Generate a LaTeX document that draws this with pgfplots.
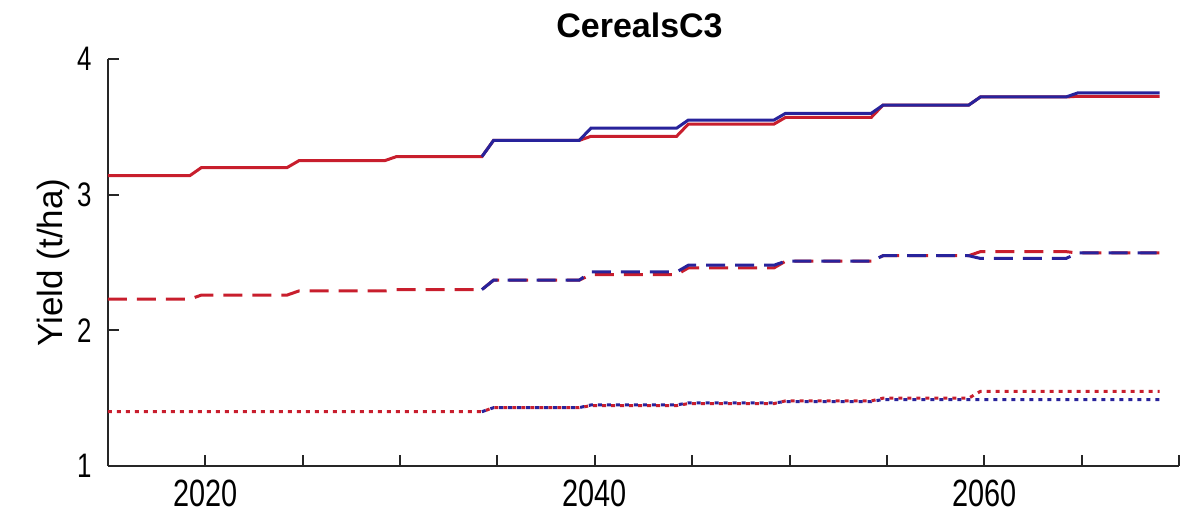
\documentclass[border=0pt]{standalone}
\usepackage{fontspec}
\setmainfont{Liberation Sans}
\newfontfamily\ticknarrow[FakeStretch=0.76]{Liberation Sans}
\usepackage{pgfplots}
\pgfplotsset{compat=1.18}
\definecolor{scenred}{RGB}{200,30,45}
\definecolor{scenblue}{RGB}{40,35,155}

\begin{document}
\begin{tikzpicture}
\useasboundingbox (-54pt,-26.5pt) rectangle (541.5pt,233pt);
\begin{axis}[
  at={(0,0)}, anchor=south west,
  scale only axis, width=535.5pt, height=203.5pt,
  xmin=2015, xmax=2070, ymin=1, ymax=4,
  axis lines=left,
  axis line style={-, line width=1pt, black!85},
  xtick={2020,2040,2060}, xticklabels={2020,2040,2060},
  minor xtick={2015,2025,2030,2035,2045,2050,2055,2065,2070},
  ytick={1,2,3,4}, yticklabels={1,2,3,4},
  tick align=inside,
  major tick length=5.5pt, minor tick length=5.5pt,
  tick style={black!85, line width=1pt},
  xticklabel style={font=\ticknarrow\fontsize{19}{19}\selectfont, inner sep=0pt, yshift=-7pt},
  yticklabel style={font=\ticknarrow\fontsize{17}{17}\selectfont, inner sep=0pt, xshift=-8pt},
  title={CerealsC3},
  title style={font=\bfseries\fontsize{17}{17}\selectfont, at={(axis description cs:0.5,1)}, anchor=base, yshift=4.5pt, xshift=-2pt},
  ylabel={Yield (t/ha)},
  ylabel style={font=\fontsize{17.5}{17.5}\selectfont, at={(axis description cs:-0.0505,0.5)}, anchor=center},
  every axis plot/.append style={line width=1.5pt, line cap=butt, line join=miter},
]
% solid: upper scenario pair
\addplot[scenred] coordinates {
  (2015,3.14) (2019.2,3.14) (2019.8,3.20) (2024.2,3.20) (2024.8,3.25) (2029.2,3.25)
  (2029.8,3.28) (2034.2,3.28) (2034.8,3.40) (2039.2,3.40) (2039.8,3.43) (2044.2,3.43)
  (2044.8,3.52) (2049.2,3.52) (2049.8,3.57) (2054.2,3.57) (2054.8,3.66) (2059.2,3.66)
  (2059.8,3.72) (2064.2,3.72) (2064.8,3.725) (2069,3.725)};
\addplot[scenblue] coordinates {
  (2034.2,3.28) (2034.8,3.40) (2039.2,3.40) (2039.8,3.49) (2044.2,3.49)
  (2044.8,3.55) (2049.2,3.55) (2049.8,3.60) (2054.2,3.60) (2054.8,3.66) (2059.2,3.66)
  (2059.8,3.72) (2064.2,3.72) (2064.8,3.75) (2069,3.75)};
% dashed: middle scenario pair
\addplot[scenred, dash pattern=on 9.5pt off 5pt] coordinates {
  (2015,2.23) (2019.2,2.23) (2019.8,2.26) (2024.2,2.26) (2024.8,2.29) (2029.2,2.29)
  (2029.8,2.30) (2034.2,2.30) (2034.8,2.37) (2039.2,2.37) (2039.8,2.41) (2044.2,2.41)
  (2044.8,2.46) (2049.2,2.46) (2049.8,2.51) (2054.2,2.51) (2054.8,2.55) (2059.2,2.55)
  (2059.8,2.58) (2064.2,2.58) (2064.8,2.57) (2069,2.57)};
\addplot[scenblue, dash pattern=on 9.5pt off 5pt] coordinates {
  (2034.2,2.30) (2034.8,2.37) (2039.2,2.37) (2039.8,2.43) (2044.2,2.43)
  (2044.8,2.48) (2049.2,2.48) (2049.8,2.51) (2054.2,2.51) (2054.8,2.55) (2059.2,2.55)
  (2059.8,2.53) (2064.2,2.53) (2064.8,2.57) (2069,2.57)};
% dotted: lower scenario pair
\addplot[scenred, dash pattern=on 2pt off 2.5pt] coordinates {
  (2015,1.40) (2034.2,1.40) (2034.8,1.43) (2039.2,1.43) (2039.8,1.445) (2044.2,1.445)
  (2044.8,1.46) (2049.2,1.46) (2049.8,1.48) (2054.2,1.48) (2054.8,1.50) (2059.2,1.50)
  (2059.8,1.55) (2069,1.55)};
\addplot[scenblue, dash pattern=on 2pt off 2.5pt] coordinates {
  (2034.2,1.40) (2034.8,1.43) (2039.2,1.43) (2039.8,1.45) (2044.2,1.45)
  (2044.8,1.465) (2049.2,1.465) (2049.8,1.475) (2054.2,1.475) (2054.8,1.49) (2059.2,1.49)
  (2059.8,1.49) (2069,1.49)};
\end{axis}
\end{tikzpicture}
\end{document}
